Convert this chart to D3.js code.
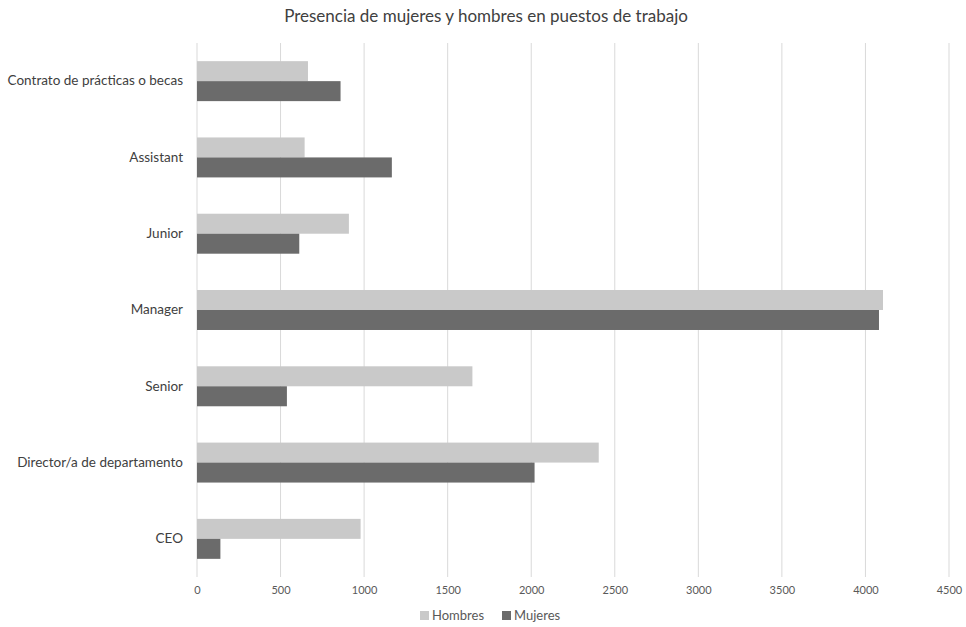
<!DOCTYPE html>
<html>
<head>
<meta charset="utf-8">
<script src="https://cdn.jsdelivr.net/npm/d3@7"></script>
<style>
  html, body { margin: 0; padding: 0; background: #fff; }
  svg { display: block; font-family: Lato, "Open Sans", sans-serif; }
</style>
</head>
<body>
<svg id="chart" width="966" height="627"></svg>
<script>
// Job categories, top to bottom
const categories = [
  "Contrato de prácticas o becas",
  "Assistant",
  "Junior",
  "Manager",
  "Senior",
  "Director/a de departamento",
  "CEO"
];
const hombres = [664, 644, 909, 4105, 1648, 2404, 979];
const mujeres = [859, 1166, 612, 4081, 538, 2020, 140];
const seriesNames = ["Hombres", "Mujeres"];
const seriesColors = ["#c9c9c9", "#6b6b6b"];
const xTicks = [0, 500, 1000, 1500, 2000, 2500, 3000, 3500, 4000, 4500];

const svg = d3.select("#chart");
const margin = { top: 43, right: 17, bottom: 50, left: 197 };
const W = 966, H = 627;
const innerW = W - margin.left - margin.right;
const innerH = H - margin.top - margin.bottom;

const x = d3.scaleLinear().domain([0, 4500]).range([margin.left, margin.left + innerW]);
const y = d3.scaleBand().domain(categories).range([margin.top, margin.top + innerH])
  .paddingInner(0.476).paddingOuter(0.238);
const ySub = d3.scaleBand().domain(seriesNames).range([0, y.bandwidth()]);

// Title
svg.append("text")
  .attr("x", 486).attr("y", 22)
  .attr("text-anchor", "middle")
  .attr("font-size", 17)
  .attr("fill", "#404040")
  .text("Presencia de mujeres y hombres en puestos de trabajo");

// Vertical gridlines
svg.append("g").selectAll("line").data(xTicks).join("line")
  .attr("x1", d => x(d)).attr("x2", d => x(d))
  .attr("y1", margin.top).attr("y2", margin.top + innerH)
  .attr("stroke", "#d9d9d9").attr("stroke-width", 1);

// Bars
const rows = categories.map((c, i) => ({ cat: c, values: [hombres[i], mujeres[i]] }));
const groups = svg.append("g").selectAll("g").data(rows).join("g")
  .attr("transform", d => `translate(0,${y(d.cat)})`);
groups.selectAll("rect").data(d => d.values.map((v, j) => ({ v, s: seriesNames[j], c: seriesColors[j] })))
  .join("rect")
  .attr("x", x(0))
  .attr("y", d => ySub(d.s))
  .attr("width", d => x(d.v) - x(0))
  .attr("height", ySub.bandwidth())
  .attr("fill", d => d.c);

// X axis labels
const xAxis = d3.axisBottom(x).tickValues(xTicks).tickSize(0).tickPadding(9).tickFormat(d3.format("d"));
const gx = svg.append("g").attr("transform", `translate(0,${margin.top + innerH})`).call(xAxis);
gx.select(".domain").remove();
gx.selectAll("text").attr("font-size", 11).attr("fill", "#595959").attr("font-family", "Lato, sans-serif");

// Y axis labels
const yAxis = d3.axisLeft(y).tickSize(0).tickPadding(14);
const gy = svg.append("g").attr("transform", `translate(${margin.left},0)`).call(yAxis);
gy.select(".domain").remove();
gy.selectAll("text").attr("font-size", 13.5).attr("fill", "#404040").attr("font-family", "Lato, sans-serif");

// Legend
const legend = svg.append("g").attr("transform", "translate(420,620)");
const legendX = [0, 82];
seriesNames.forEach((s, i) => {
  const g = legend.append("g").attr("transform", `translate(${legendX[i]},0)`);
  g.append("rect").attr("x", 0).attr("y", -9).attr("width", 9).attr("height", 9).attr("fill", seriesColors[i]);
  g.append("text").attr("x", 12).attr("y", 0).attr("font-size", 13).attr("fill", "#595959").text(s);
});
</script>
</body>
</html>
